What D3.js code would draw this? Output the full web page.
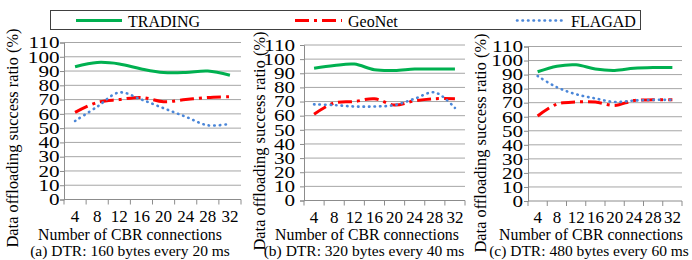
<!DOCTYPE html>
<html>
<head>
<meta charset="utf-8">
<script src="https://cdn.jsdelivr.net/npm/d3@7"></script>
<style>
  body { margin: 0; background: #fff; }
  svg text { font-family: "Liberation Serif", "Times New Roman", serif; fill: #000; }
</style>
</head>
<body>
<svg id="chart" width="692" height="260"></svg>
<script>
// data
const categories = [4, 8, 12, 16, 20, 24, 28, 32];
const yTicks = [0, 10, 20, 30, 40, 50, 60, 70, 80, 90, 100, 110];
const seriesNames = ["TRADING", "GeoNet", "FLAGAD"];

const tradingA = [93, 96, 95, 91.5, 89, 89, 90, 87];
const geonetA  = [61, 68, 70, 71.5, 68.5, 70, 71.5, 72];
const flagadA  = [55, 65, 75, 70, 64, 58, 52, 53];

const tradingB = [93.5, 95.5, 96.5, 92.5, 92, 93, 93, 93];
const geonetB  = [61, 69, 70, 72, 67.5, 70.5, 72, 72];
const flagadB  = [68, 67.5, 66.5, 66.5, 67.5, 72, 76.5, 65.5];

const tradingC = [92, 96, 97, 94, 93, 94.5, 95, 95];
const geonetC  = [60.5, 69, 70.5, 70.5, 68, 71.5, 72, 72];
const flagadC  = [89, 81, 76, 73, 70.5, 71.5, 72, 72];

const captions = [
  "(a) DTR: 160 bytes every 20 ms",
  "(b) DTR: 320 bytes every 40 ms",
  "(c) DTR: 480 bytes every 60 ms"
];
const xTitle = "Number of CBR connections";
const yTitle = "Data offloading success ratio (%)";

const styles = {
  TRADING: { color: "#00b050", width: 3, dash: null, cap: "butt" },
  GeoNet:  { color: "#ff0000", width: 3, dash: "14,5,3,5", cap: "butt" },
  FLAGAD:  { color: "#4a86d8", width: 2.6, dash: "0.5,5", cap: "round" }
};

const panels = [
  { x0: 64,  x1: 241, top: 42.5, bottom: 199.5, titleX: 13,  titleY: 138, labelGap: 0.5, center: 130, capCenter: 130, series: [tradingA, geonetA, flagadA] },
  { x0: 304, x1: 465, top: 45,   bottom: 200.5, titleX: 260, titleY: 141, labelGap: 5,   center: 367, capCenter: 364, series: [tradingB, geonetB, flagadB] },
  { x0: 528, x1: 682, top: 46.5, bottom: 201,   titleX: 481, titleY: 143, labelGap: 1,   center: 591, capCenter: 589, series: [tradingC, geonetC, flagadC] }
];

const svg = d3.select("#chart");

panels.forEach((p, pi) => {
  const x = d3.scaleBand().domain(categories).range([p.x0, p.x1]).padding(0);
  const y = d3.scaleLinear().domain([0, 110]).range([p.bottom, p.top]);
  const g = svg.append("g");

  // gridlines
  g.selectAll(".grid").data(yTicks.filter(d => d > 0)).enter()
    .append("line")
    .attr("x1", p.x0).attr("x2", p.x1)
    .attr("y1", d => y(d)).attr("y2", d => y(d))
    .attr("stroke", "#a6a6a6").attr("stroke-width", 1);

  // y axis
  const yAxis = g.append("g")
    .attr("transform", `translate(${p.x0},0)`)
    .call(d3.axisLeft(y).tickValues(yTicks).tickSize(4).tickPadding(p.labelGap));
  yAxis.attr("font-family", null);
  yAxis.select(".domain").attr("stroke", "#8c8c8c");
  yAxis.selectAll(".tick line").attr("stroke", "#8c8c8c");
  yAxis.selectAll("text")
    .attr("font-size", "16.5px")
    .attr("fill", "#000")
    .each(function () {
      // the original tick labels are drawn a bit wider than plain Times
      const w = this.getComputedTextLength();
      d3.select(this).attr("textLength", w * 1.28).attr("lengthAdjust", "spacingAndGlyphs");
    });

  // x axis with ticks between categories
  const xAxis = g.append("g").attr("transform", `translate(0,${p.bottom})`);
  xAxis.append("line")
    .attr("x1", p.x0).attr("x2", p.x1).attr("y1", 0).attr("y2", 0)
    .attr("stroke", "#8c8c8c");
  const edges = categories.map(c => x(c)).concat([p.x1]);
  xAxis.selectAll(".xt").data(edges).enter().append("line")
    .attr("x1", d => d).attr("x2", d => d).attr("y1", 0).attr("y2", 5)
    .attr("stroke", "#8c8c8c");
  xAxis.selectAll(".xl").data(categories).enter().append("text")
    .attr("x", d => x(d) + x.bandwidth() / 2)
    .attr("y", 22)
    .attr("text-anchor", "middle")
    .attr("font-size", "17px")
    .text(d => d);

  // series
  const line = d3.line()
    .x((d, i) => x(categories[i]) + x.bandwidth() / 2)
    .y(d => y(d))
    .curve(d3.curveCatmullRom.alpha(0.5));

  p.series.forEach((vals, si) => {
    const s = styles[seriesNames[si]];
    g.append("path")
      .datum(vals)
      .attr("d", line)
      .attr("fill", "none")
      .attr("stroke", s.color)
      .attr("stroke-width", s.width)
      .attr("stroke-dasharray", s.dash)
      .attr("stroke-linecap", s.cap);
  });

  // titles
  g.append("text")
    .attr("transform", `translate(${p.titleX + 5},${p.titleY}) rotate(-90)`)
    .attr("text-anchor", "middle")
    .attr("font-size", "16.4px")
    .text(yTitle);

  g.append("text")
    .attr("x", p.center).attr("y", 240)
    .attr("text-anchor", "middle")
    .attr("font-size", "15.8px")
    .text(xTitle);

  g.append("text")
    .attr("x", p.capCenter).attr("y", 256)
    .attr("text-anchor", "middle")
    .attr("font-size", "15.5px")
    .text(captions[pi]);
});

// legend
const legend = svg.append("g");
legend.append("rect")
  .attr("x", 50.5).attr("y", 10.5).attr("width", 590).attr("height", 19)
  .attr("fill", "#fff").attr("stroke", "#404040").attr("stroke-width", 1);

const legendItems = [
  { name: "TRADING", x1: 76,  x2: 122 },
  { name: "GeoNet",  x1: 295, x2: 342 },
  { name: "FLAGAD",  x1: 517, x2: 565 }
];
legendItems.forEach(it => {
  const s = styles[it.name];
  legend.append("line")
    .attr("x1", it.x1).attr("x2", it.x2).attr("y1", 20.5).attr("y2", 20.5)
    .attr("stroke", s.color).attr("stroke-width", s.width)
    .attr("stroke-dasharray", s.dash).attr("stroke-linecap", s.cap);
  legend.append("text")
    .attr("x", it.x2 + 6).attr("y", 27)
    .attr("font-size", "16px")
    .text(it.name);
});
</script>
</body>
</html>
